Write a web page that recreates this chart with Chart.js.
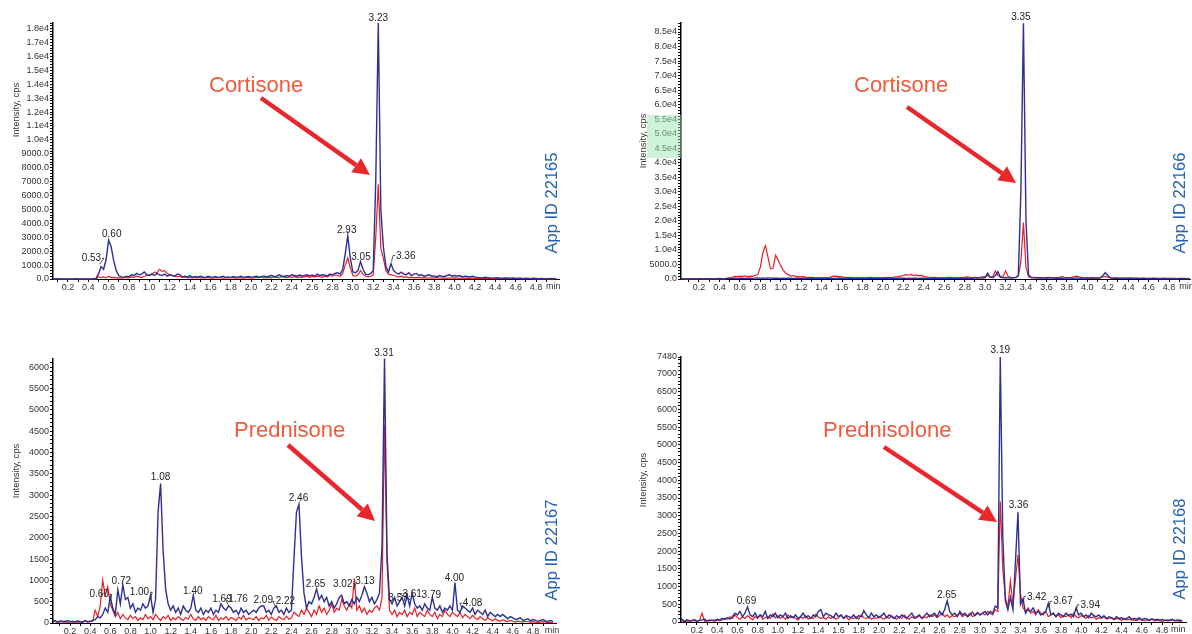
<!DOCTYPE html>
<html>
<head>
<meta charset="utf-8">
<script src="https://cdn.jsdelivr.net/npm/chart.js@4/dist/chart.umd.min.js"></script>
<style>
  html, body { margin: 0; padding: 0; background: #fff; }
  #wrap { position: relative; width: 1192px; height: 634px; }
  #wrap canvas { position: absolute; left: 0; top: 0; }
</style>
</head>
<body>
<div id="wrap">
  <canvas id="c1" width="1192" height="634"></canvas>
  <canvas id="c2" width="1192" height="634"></canvas>
  <canvas id="c3" width="1192" height="634"></canvas>
  <canvas id="c4" width="1192" height="634"></canvas>
</div>
<script>
// setup - intensities (cps) read every 0.025 min, first point at 0.025 min
const tStep = 0.025;

const p1Blue = [
  0,10,0,15,0,10,0,0,10,0,15,0,0,10,0,10,0,20,40,350,
  900,700,1400,2800,2300,1300,600,250,150,120,200,150,300,250,400,300,350,500,300,250,
  350,250,400,300,250,350,200,300,250,200,350,300,150,200,150,250,120,180,130,200,
  150,100,200,150,120,180,100,150,200,120,150,100,180,130,150,200,120,150,180,130,
  150,200,130,170,220,150,200,250,180,200,300,220,180,250,200,300,250,200,280,220,
  250,300,220,280,200,350,250,300,280,220,350,300,400,450,350,700,1800,3100,1500,500,
  450,600,1250,700,350,300,400,600,7000,18400,5000,2300,900,500,1100,600,450,350,500,350,
  300,450,250,350,400,250,300,200,250,300,200,220,150,250,200,180,250,300,200,250,
  200,250,150,200,180,150,200,150,120,100,80,120,100,80,60,80,100,60,50,80,
  60,50,70,40,60,50,30,50,40,30,50,40,30,40,30,20,30,40,30,20
];
const p1Red = [
  0,0,0,0,0,0,0,0,0,0,0,0,0,0,0,0,0,0,10,150,
  100,150,80,200,100,120,80,100,60,120,80,100,150,120,200,150,100,200,250,300,
  350,500,450,700,550,600,400,300,250,200,150,180,120,150,100,120,80,100,120,80,
  100,80,120,60,100,80,120,90,60,100,80,120,100,60,80,100,70,120,80,100,
  80,120,100,150,80,120,100,80,150,120,100,180,120,100,150,120,180,100,150,120,
  150,200,120,180,150,200,180,120,200,150,250,200,300,250,200,400,1000,1500,800,250,
  200,300,600,350,200,150,200,300,3000,6800,2200,1500,600,350,300,250,200,150,200,120,
  150,100,120,80,100,120,80,100,70,90,60,80,100,70,60,80,50,70,60,80,
  60,50,70,40,60,50,40,60,30,50,40,30,50,40,30,40,30,20,30,40,
  30,20,30,20,30,20,10,20,30,20,10,20,10,20,10,20,10,20,10,10
];

const p2Blue = [
  50,80,50,100,60,80,50,100,80,60,100,80,120,80,100,150,120,100,150,200,
  200,250,200,300,250,200,300,250,200,300,350,300,250,300,350,300,250,300,250,200,
  250,200,300,250,200,250,300,200,250,200,300,250,200,250,200,300,250,200,250,200,
  200,250,300,250,200,300,250,200,250,300,200,250,200,300,250,200,250,300,250,200,
  250,200,300,250,200,250,300,250,200,250,200,300,250,200,250,300,250,200,250,300,
  250,200,300,250,200,250,300,250,200,300,250,300,250,300,250,300,350,300,350,500,
  2000,600,400,1200,2500,600,400,500,400,350,400,500,1200,30000,88000,20000,1500,500,400,350,
  300,350,300,250,300,350,300,250,300,250,300,350,300,250,300,350,300,250,300,350,
  300,250,300,350,300,1000,2200,1200,400,300,250,300,250,200,250,300,250,200,250,200,
  200,250,200,150,200,250,200,150,200,150,200,150,200,150,100,150,200,150,100,150
];
const p2Red = [
  0,0,0,0,0,0,0,0,0,0,0,0,0,0,0,0,0,0,200,400,
  600,900,800,1000,900,1100,800,1000,900,1200,1500,4000,9000,11500,7500,3500,3800,8200,6500,4500,
  3000,2000,1500,1000,1200,900,800,700,800,600,500,600,500,400,500,400,500,400,500,800,
  1000,900,800,700,600,500,600,500,400,500,400,500,400,500,600,500,400,500,400,500,
  500,600,500,600,700,800,1000,1200,1500,1300,1600,1200,1400,1100,1300,900,700,600,500,600,
  500,400,500,400,500,600,500,400,500,400,500,600,700,600,500,600,500,600,700,800,
  1200,600,800,2800,1200,700,800,2800,900,600,500,600,900,6000,19400,4000,800,500,600,500,
  600,500,400,500,600,500,400,500,600,800,600,500,400,600,800,1000,700,500,400,500,
  400,500,400,300,500,700,900,600,400,300,400,300,250,300,200,250,300,200,250,200,
  200,250,150,200,150,200,150,100,150,200,150,100,150,100,150,100,150,100,150,100
];

const p3Blue = [
  30,60,20,50,40,20,60,30,40,20,50,30,20,60,30,40,60,80,150,120,
  200,350,250,620,350,200,780,450,900,550,600,350,450,250,350,300,450,350,400,650,
  250,550,2600,3270,1700,800,450,300,400,250,350,200,400,300,250,350,650,300,250,350,
  200,300,250,350,200,300,250,450,350,300,400,350,250,300,200,350,250,300,200,250,
  300,250,350,400,400,250,300,200,350,400,250,300,200,350,250,300,1500,2600,2780,1550,
  700,350,500,450,600,800,550,650,500,600,400,500,350,450,600,650,450,500,400,550,
  450,600,500,650,850,700,500,600,450,550,700,1800,6200,1600,550,450,600,400,500,600,
  400,650,400,700,450,350,400,300,450,350,300,600,350,300,400,250,350,300,400,300,
  950,300,250,400,350,300,250,350,200,300,250,200,300,150,250,200,150,200,150,200,
  150,100,150,120,80,100,120,60,80,100,50,80,60,40,60,80,50,40,60,40
];
const p3Red = [
  20,40,10,30,20,50,10,30,20,40,10,30,20,50,20,30,40,300,150,400,
  1000,650,850,450,300,150,250,100,200,120,80,180,100,150,60,120,80,200,100,150,
  80,200,120,60,150,100,180,60,120,80,150,100,60,130,90,200,100,60,150,80,
  120,60,150,100,80,180,60,120,90,150,70,130,100,60,140,90,180,70,120,100,
  80,150,60,120,100,180,70,140,90,60,150,100,80,160,90,120,250,200,150,300,
  200,350,250,150,300,200,400,250,350,200,300,450,250,350,300,550,400,300,450,350,
  1050,300,400,250,350,200,300,250,350,400,300,600,4650,1400,300,200,300,150,250,200,
  300,150,250,200,350,150,250,200,150,300,200,150,250,100,200,150,300,200,150,250,
  200,150,250,120,200,150,100,180,120,80,150,100,60,120,80,50,100,60,40,80,
  50,30,60,40,20,50,30,20,40,30,20,30,20,10,20,30,20,10,20,10
];

const p4Blue = [
  30,80,20,60,40,30,70,20,50,60,80,30,60,40,50,80,60,100,80,120,
  80,150,250,200,300,150,250,430,200,150,250,120,200,150,300,100,200,150,250,120,
  200,150,250,100,180,120,200,100,150,250,120,180,100,200,150,300,350,150,250,200,
  180,120,250,150,200,100,180,150,120,200,100,180,150,320,200,120,250,150,200,120,
  180,250,120,200,150,100,180,120,200,150,100,180,250,120,150,200,100,180,250,150,
  200,250,150,300,200,350,600,300,200,250,150,300,200,250,150,200,280,180,250,200,
  250,300,200,300,250,450,400,7480,2400,600,350,700,350,1700,3100,500,650,250,350,300,
  400,250,300,200,250,300,530,200,250,150,250,200,150,250,180,220,150,400,200,250,
  150,200,120,250,180,150,200,120,180,100,150,120,80,150,100,120,80,100,150,80,
  100,80,120,60,100,80,50,90,60,80,50,70,40,60,50,80,40,60,50,40
];
const p4Red = [
  20,40,10,30,20,50,30,20,40,250,20,40,30,60,20,50,40,60,100,80,
  150,100,200,120,80,150,100,180,120,60,150,100,200,80,120,150,100,230,120,180,
  100,150,80,200,120,150,100,60,150,100,180,80,120,100,220,150,100,130,80,150,
  100,150,80,120,200,100,150,60,120,100,150,80,200,120,100,150,80,120,100,150,
  120,80,150,100,180,120,80,150,100,200,120,80,150,100,120,180,100,150,120,200,
  150,200,120,180,250,150,200,120,180,150,200,250,150,200,180,250,150,200,280,200,
  250,200,300,250,200,350,300,3400,1500,700,400,1150,500,1200,1900,800,400,300,400,250,
  300,200,350,250,200,300,150,200,250,150,200,120,180,150,200,120,250,150,120,180,
  150,100,180,120,150,80,120,100,150,80,100,120,60,100,80,50,100,60,80,50,
  60,40,80,50,30,60,40,80,30,50,40,20,50,30,40,60,30,40,20,30
];

// tick labels
const xTickLabels = ['0.2','0.4','0.6','0.8','1.0','1.2','1.4','1.6','1.8','2.0','2.2','2.4',
  '2.6','2.8','3.0','3.2','3.4','3.6','3.8','4.0','4.2','4.4','4.6','4.8'];

const p1YTicks = [0,1000,2000,3000,4000,5000,6000,7000,8000,9000,10000,11000,12000,13000,14000,15000,16000,17000,18000];
const p1YLabels = ['0.0','1000.0','2000.0','3000.0','4000.0','5000.0','6000.0','7000.0','8000.0','9000.0',
  '1.0e4','1.1e4','1.2e4','1.3e4','1.4e4','1.5e4','1.6e4','1.7e4','1.8e4'];
const p2YTicks = [0,5000,10000,15000,20000,25000,30000,35000,40000,45000,50000,55000,60000,65000,70000,75000,80000,85000];
const p2YLabels = ['0.0','5000.0','1.0e4','1.5e4','2.0e4','2.5e4','3.0e4','3.5e4','4.0e4','4.5e4','5.0e4',
  '5.5e4','6.0e4','6.5e4','7.0e4','7.5e4','8.0e4','8.5e4'];
const p3YTicks = [0,500,1000,1500,2000,2500,3000,3500,4000,4500,5000,5500,6000];
const p3YLabels = ['0','500','1000','1500','2000','2500','3000','3500','4000','4500','5000','5500','6000'];
const p4YTicks = [0,500,1000,1500,2000,2500,3000,3500,4000,4500,5000,5500,6000,6500,7000,7480];
const p4YLabels = ['0','500','1000','1500','2000','2500','3000','3500','4000','4500','5000','5500','6000','6500','7000','7480'];

// peak labels: text, retention time, height (cps) of the text baseline, leader target time
const p1Peaks = ['0.53','0.60','2.93','3.05','3.23','3.36'];
const p1PeakT = [0.43, 0.63, 2.94, 3.08, 3.25, 3.52];
const p1PeakY = [1280, 3030, 3310, 1400, 18520, 1470];
const p1Lead = [0.51, null, null, null, null, 3.38];

const p2Peaks = ['3.35'];
const p2PeakT = [3.35];
const p2PeakY = [89300];
const p2Lead = [null];

const p3Peaks = ['0.60','0.72','1.00','1.08','1.40','1.69','1.76','2.09','2.22','2.46','2.65','3.02','3.13','3.31','3.57','3.61','3.79','4.00','4.08'];
const p3PeakT = [0.49, 0.71, 0.89, 1.10, 1.42, 1.71, 1.87, 2.12, 2.34, 2.47, 2.64, 2.91, 3.13, 3.32, 3.46, 3.60, 3.79, 4.02, 4.20];
const p3PeakY = [600, 925, 650, 3350, 675, 500, 500, 480, 435, 2860, 850, 850, 910, 6250, 520, 615, 575, 980, 395];
const p3Lead = [0.6, null, 1.0, null, null, null, 1.77, null, 2.25, null, null, 3.02, null, null, null, 3.58, null, null, 4.1];

const p4Peaks = ['0.69','2.65','3.19','3.36','3.42','3.67','3.94'];
const p4PeakT = [0.69, 2.67, 3.20, 3.38, 3.56, 3.82, 4.09];
const p4PeakY = [495, 665, 7580, 3230, 635, 500, 400];
const p4Lead = [null, null, null, null, 3.43, 3.68, 3.95];

// styles
const FONT = '"Liberation Sans", Arial, Helvetica, sans-serif';
const BLUE = '#2d3192';
const RED = '#e61e25';

function arrow(ctx, x1, y1, x2, y2) {
  const a = Math.atan2(y2 - y1, x2 - x1), L = 17, W = 8.5;
  const bx = x2 - L * Math.cos(a), by = y2 - L * Math.sin(a);
  ctx.strokeStyle = '#e8262c';
  ctx.fillStyle = '#e8262c';
  ctx.lineWidth = 4.5;
  ctx.beginPath(); ctx.moveTo(x1, y1); ctx.lineTo(bx, by); ctx.stroke();
  ctx.beginPath();
  ctx.moveTo(x2, y2);
  ctx.lineTo(bx + W * Math.sin(a), by - W * Math.cos(a));
  ctx.lineTo(bx - W * Math.sin(a), by + W * Math.cos(a));
  ctx.closePath(); ctx.fill();
}

function vtext(ctx, txt, x, y) {
  ctx.save();
  ctx.translate(x, y);
  ctx.rotate(-Math.PI / 2);
  ctx.textAlign = 'center';
  ctx.textBaseline = 'middle';
  ctx.fillText(txt, 0, 0);
  ctx.restore();
}

// draws peak labels, units, titles and the compound arrows
function overlay(p) {
  return {
    id: 'overlay',
    afterDraw(chart) {
      const ctx = chart.ctx, xs = chart.scales.x, ys = chart.scales.y;
      ctx.save();
      ctx.font = '10px ' + FONT;
      ctx.fillStyle = '#222';
      ctx.strokeStyle = '#222';
      ctx.lineWidth = 0.8;
      ctx.textAlign = 'center';
      ctx.textBaseline = 'alphabetic';
      p.peaks.forEach((txt, i) => {
        const x = xs.getPixelForValue(p.peakT[i]);
        const y = ys.getPixelForValue(p.peakY[i]);
        ctx.fillText(txt, x, y);
        const to = p.lead[i];
        if (to != null) {
          const half = ctx.measureText(txt).width / 2;
          const tx = xs.getPixelForValue(to);
          const dir = tx > x ? 1 : -1;
          const sx = x + dir * (half + 1);
          ctx.beginPath();
          ctx.moveTo(sx, y - 3);
          ctx.lineTo(sx + dir * 2, y - 3);
          ctx.lineTo(tx, y + 3);
          ctx.stroke();
        }
      });

      ctx.font = '9px ' + FONT;
      ctx.fillStyle = '#333';
      ctx.textBaseline = 'top';
      ctx.fillText('min', xs.getPixelForValue(p.minT), xs.top + 3);

      ctx.font = '9.5px ' + FONT;
      vtext(ctx, 'Intensity, cps', p.titleX, p.titleY);

      if (p.shade) {
        ctx.fillStyle = 'rgba(160,232,180,0.5)';
        ctx.fillRect(p.shade[0], p.shade[1], p.shade[2], p.shade[3]);
      }

      ctx.font = '22px ' + FONT;
      ctx.fillStyle = '#ef5b3b';
      ctx.textAlign = 'left';
      ctx.textBaseline = 'alphabetic';
      ctx.fillText(p.compound, p.nameX, p.nameY);
      arrow(ctx, p.arrow[0], p.arrow[1], p.arrow[2], p.arrow[3]);

      ctx.font = '16.5px ' + FONT;
      ctx.fillStyle = '#2460b4';
      vtext(ctx, p.appId, p.appX, p.appY);
      ctx.restore();
    }
  };
}

function makeChart(id, p) {
  const pts = arr => arr.map((v, i) => ({ x: +((i + 1) * tStep).toFixed(3), y: v }));
  const xMinor = [];
  for (let k = 1; k <= 49; k++) xMinor.push(k / 10);
  const yMinor = [];
  for (let v = 0; v <= p.yMax; v += p.yStep) yMinor.push(v);
  p.yTicks.forEach(v => { if (!yMinor.includes(v)) yMinor.push(v); });
  yMinor.sort((a, b) => a - b);

  return new Chart(document.getElementById(id), {
    type: 'line',
    data: {
      datasets: [
        { data: pts(p.blue), borderColor: BLUE, borderWidth: 1.4, clip: { left: 0, top: 6, right: 0, bottom: 2 } },
        { data: pts(p.red), borderColor: RED, borderWidth: 1.2, clip: { left: 0, top: 6, right: 0, bottom: 2 } }
      ]
    },
    options: {
      responsive: false,
      animation: false,
      events: [],
      layout: { padding: p.pad },
      elements: { point: { radius: 0 }, line: { tension: 0 } },
      plugins: { legend: { display: false }, tooltip: { enabled: false } },
      scales: {
        x: {
          type: 'linear', min: p.xMin, max: p.xMax,
          afterBuildTicks: s => { s.ticks = xMinor.map(v => ({ value: v })); },
          afterFit: s => { s.height = 11; },
          ticks: {
            autoSkip: false, maxRotation: 0, padding: 0, color: '#333',
            font: { family: FONT, size: 9 },
            callback: (v, i) => ((i + 1) % 2 === 0 ? xTickLabels[(i + 1) / 2 - 1] : '')
          },
          grid: { drawOnChartArea: false, tickLength: 3, color: '#000' },
          border: { color: '#000', width: 1 }
        },
        y: {
          min: 0, max: p.yMax,
          afterBuildTicks: s => { s.ticks = yMinor.map(v => ({ value: v })); },
          afterFit: s => { s.width = p.yWidth; },
          ticks: {
            autoSkip: false, padding: 1, color: '#333',
            font: { family: FONT, size: 9 },
            callback: v => { const k = p.yTicks.indexOf(v); return k < 0 ? '' : p.yLabels[k]; }
          },
          grid: { drawOnChartArea: false, tickLength: 3, color: '#000' },
          border: { color: '#000', width: 1.5 }
        }
      }
    },
    plugins: [overlay(p)]
  });
}

// render
makeChart('c1', {
  blue: p1Blue, red: p1Red, yTicks: p1YTicks, yLabels: p1YLabels, yMax: 18400, yStep: 200,
  peaks: p1Peaks, peakT: p1PeakT, peakY: p1PeakY, lead: p1Lead,
  xMin: 0.053, xMax: 5.026, minT: 4.97, yWidth: 53,
  pad: { left: 0, top: 23, right: 633, bottom: 344 },
  titleX: 16, titleY: 110, compound: 'Cortisone', nameX: 209, nameY: 92,
  arrow: [261, 98, 370, 175], appId: 'App ID 22165', appX: 552, appY: 203
});
makeChart('c2', {
  blue: p2Blue, red: p2Red, yTicks: p2YTicks, yLabels: p2YLabels, yMax: 88100, yStep: 1000,
  peaks: p2Peaks, peakT: p2PeakT, peakY: p2PeakY, lead: p2Lead,
  xMin: 0.024, xMax: 5.005, minT: 4.97, yWidth: 60,
  pad: { left: 621, top: 23, right: 2, bottom: 344 },
  titleX: 643, titleY: 141, compound: 'Cortisone', nameX: 854, nameY: 92,
  arrow: [907, 107, 1016, 183], appId: 'App ID 22166', appX: 1180, appY: 203,
  shade: [647, 115, 34, 43]
});
makeChart('c3', {
  blue: p3Blue, red: p3Red, yTicks: p3YTicks, yLabels: p3YLabels, yMax: 6190, yStep: 100,
  peaks: p3Peaks, peakT: p3PeakT, peakY: p3PeakY, lead: p3Lead,
  xMin: 0.031, xMax: 5.029, minT: 4.99, yWidth: 53,
  pad: { left: 0, top: 359, right: 636, bottom: 0 },
  titleX: 16, titleY: 471, compound: 'Prednisone', nameX: 234, nameY: 437,
  arrow: [288, 445, 375, 521], appId: 'App ID 22167', appX: 552, appY: 550
});
makeChart('c4', {
  blue: p4Blue, red: p4Red, yTicks: p4YTicks, yLabels: p4YLabels, yMax: 7480, yStep: 100,
  peaks: p4Peaks, peakT: p4PeakT, peakY: p4PeakY, lead: p4Lead,
  xMin: 0.042, xMax: 5.037, minT: 4.96, yWidth: 60,
  pad: { left: 621, top: 357, right: 6, bottom: 1 },
  titleX: 643, titleY: 480, compound: 'Prednisolone', nameX: 823, nameY: 437,
  arrow: [884, 447, 997, 522], appId: 'App ID 22168', appX: 1180, appY: 549
});
</script>
</body>
</html>
